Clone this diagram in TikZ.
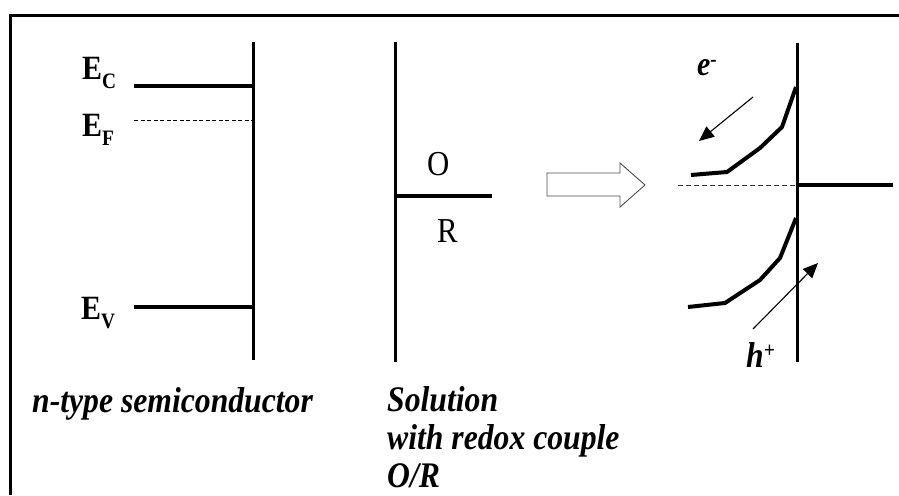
\documentclass[tikz,border=0pt]{standalone}
\usepackage{fontspec}
\setmainfont{Liberation Serif}
\newfontfamily\narrowserif[FakeStretch=0.88]{Liberation Serif}
\usetikzlibrary{arrows.meta}
\newcommand\lowidx[1]{\raisebox{-9pt}{\fontsize{22}{22}\selectfont #1}}
\newcommand\highidx[2]{\raisebox{#1}{\fontsize{22}{22}\selectfont #2}}
\begin{document}
\begin{tikzpicture}[x=1pt,y=-1pt,
  level/.style={line width=4pt},
  wall/.style={line width=3pt},
  band/.style={line width=4pt, line join=round},
  fermi/.style={line width=0.8pt, dash pattern=on 4pt off 2.5pt},
  carrier/.style={line width=1.1pt, -{Triangle[length=15pt,width=13pt]}},
  elabel/.style={anchor=base west, inner sep=0pt, font=\narrowserif\bfseries\fontsize{34}{34}\selectfont},
  species/.style={anchor=base west, inner sep=0pt, font=\narrowserif\fontsize{35}{35}\selectfont},
  caption/.style={anchor=base west, inner sep=0pt,
    font=\narrowserif\bfseries\itshape\fontsize{36}{36}\selectfont},
  bigarrow/.style={draw=black!70, line width=0.9pt, fill=white}
]
\useasboundingbox (0,0) rectangle (899,495);
% frame
\draw[line width=3pt] (10,495) -- (10,16) -- (899,16);

% n-type semiconductor
\coordinate (scTop) at (253,42);
\coordinate (scBot) at (253,360);
\draw[wall] (scTop) -- (scBot);
\coordinate (ec) at (134,86);
\coordinate (ef) at (134,120);
\coordinate (ev) at (134,307);
\draw[level] (ec) -- (ec -| scTop);
\draw[fermi] (ef) -- (ef -| scTop);
\draw[level] (ev) -- (ev -| scTop);
\node[elabel] (lEC) at (82,80) {E\lowidx{C}};
\node[elabel] (lEF) at (82,136) {E\lowidx{F}};
\node[elabel] (lEV) at (81,319) {E\lowidx{V}};

% solution with redox couple
\coordinate (solTop) at (395,42);
\coordinate (solBot) at (395,362);
\coordinate (redox) at (395,196);
\draw[wall] (solTop) -- (solBot);
\draw[level] (redox) -- (492,196);
\node[species] (lO) at (427,175) {O};
\node[species] (lR) at (437,242) {R};

% contact arrow
\draw[bigarrow] (547,173) -- (620,173) -- (620,163) -- (645,185)
  -- (620,207) -- (620,196) -- (547,196) -- cycle;

% junction after contact
\coordinate (jTop) at (797,43);
\coordinate (jBot) at (797,362);
\coordinate (jF) at (797,185);
\draw[wall] (jTop) -- (jBot);
\draw[level] (jF) -- (893,185);
\draw[black!80, line width=0.8pt, dash pattern=on 5pt off 3pt] (678,185) -- (jF);
\draw[band] (691,175) -- (727,172) -- (760,148) -- (782,127) -- (796,87);
\draw[band] (688,307) -- (725,303) -- (760,280) -- (780,258) -- (796,218);

% carriers
\coordinate (eFrom) at (753,97);
\coordinate (eTo) at (699,141);
\coordinate (hFrom) at (753,329);
\coordinate (hTo) at (818,263);
\draw[carrier] (eFrom) -- (eTo);
\draw[carrier] (hFrom) -- (hTo);
\node[elabel, font=\narrowserif\bfseries\itshape\fontsize{34}{34}\selectfont] (le) at (697,75) {e\highidx{9pt}{-}};
\node[elabel, font=\narrowserif\bfseries\itshape\fontsize{36}{36}\selectfont] (lh) at (746,367) {h\highidx{10pt}{+}};

% captions
\node[caption] (capSC) at (32,412) {n-type semiconductor};
\node[caption] (capSol1) at (387,411) {Solution};
\node[caption] (capSol2) at (387,449) {with redox couple};
\node[caption] (capSol3) at (387,487) {O/R};
\end{tikzpicture}
\end{document}
